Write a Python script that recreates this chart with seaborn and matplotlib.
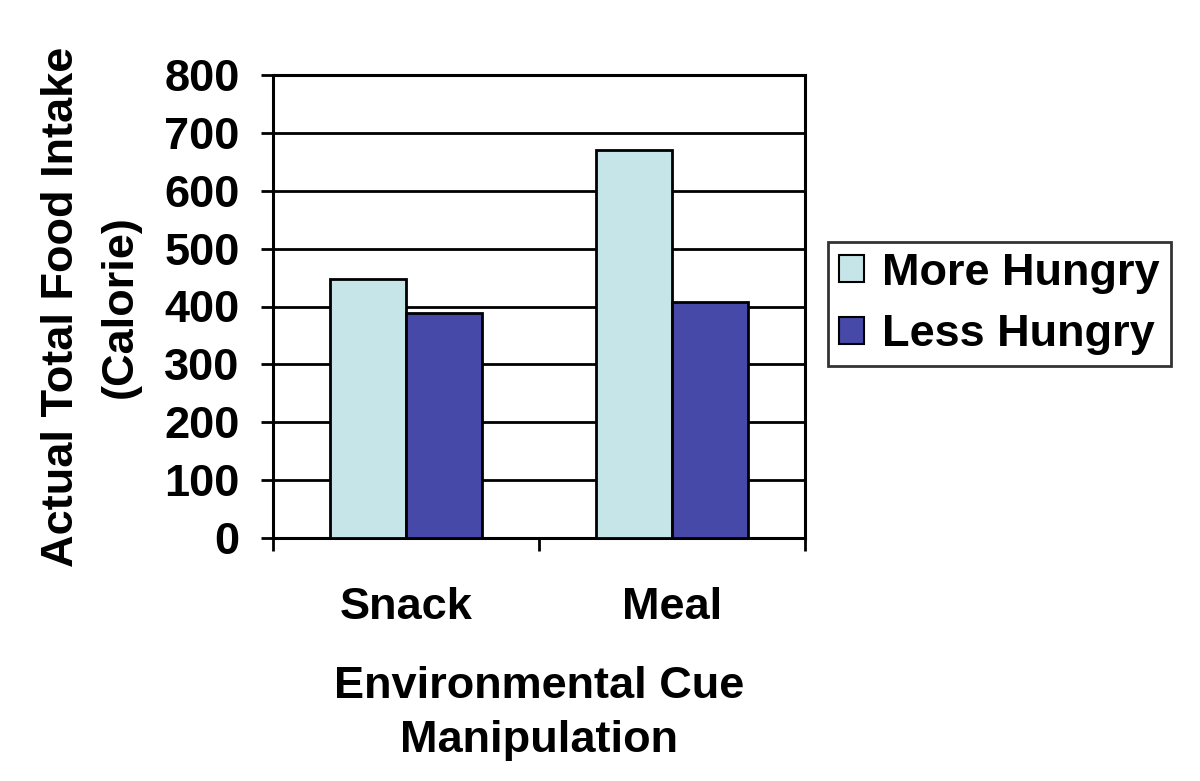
import matplotlib
matplotlib.use("Agg")
import matplotlib.pyplot as plt
import seaborn as sns
import pandas as pd
from matplotlib.ticker import FixedLocator, NullFormatter

categories = ["Snack", "Meal"]
groups = ["More Hungry", "Less Hungry"]
more_hungry = [447, 670]
less_hungry = [389, 407]
y_ticks = [0, 100, 200, 300, 400, 500, 600, 700, 800]

df = pd.DataFrame({
    "cue": categories * 2,
    "group": [groups[0]] * 2 + [groups[1]] * 2,
    "value": more_hungry + less_hungry,
})

sns.set_theme(style="white")
plt.rcParams['font.family'] = ['Liberation Sans', 'DejaVu Sans']
plt.rcParams['font.weight'] = 'bold'
for k in ["text.color", "axes.labelcolor", "xtick.color", "ytick.color"]:
    plt.rcParams[k] = "black"

FS = 32.5

fig = plt.figure(figsize=(12, 7.81), dpi=100)
ax = fig.add_axes([273/1200, 1 - 538/781, (805-273)/1200, (538-75)/781])

palette = {"More Hungry": "#C6E5E8", "Less Hungry": "#4649A8"}
sns.barplot(data=df, x="cue", y="value", hue="group", order=categories,
            hue_order=groups, palette=palette, width=0.575, ax=ax,
            edgecolor="black", linewidth=2, saturation=1, zorder=3, legend=True)

ax.set_ylim(0, 800)
ax.set_xlim(-0.5, 1.5)
ax.set_yticks(y_ticks)
ax.yaxis.grid(True, color="black", linewidth=2, zorder=0)
ax.set_axisbelow(True)
for s in ax.spines.values():
    s.set_color("black")
    s.set_linewidth(2.2)
    s.set_visible(True)

ax.tick_params(axis="y", which="major", length=9, width=2, color="black",
               direction="out", left=True, pad=15, labelsize=FS, labelcolor="black")
ax.tick_params(axis="x", which="major", length=0, pad=35, labelsize=FS, labelcolor="black")
ax.xaxis.set_minor_locator(FixedLocator([-0.5, 0.5, 1.5]))
ax.xaxis.set_minor_formatter(NullFormatter())
ax.tick_params(axis="x", which="minor", length=9, width=2, color="black",
               direction="out", bottom=True)
for lbl in ax.get_xticklabels() + ax.get_yticklabels():
    lbl.set_fontweight("bold")

ax.set_xlabel("Environmental Cue\nManipulation", fontsize=FS, fontweight="bold",
              labelpad=28, linespacing=1.4, color="black")
ax.set_ylabel("Actual Total Food Intake\n(Calorie)", fontsize=FS, fontweight="bold",
              labelpad=17, linespacing=1.55, color="black")

leg = ax.legend(loc="center left", bbox_to_anchor=(828/1200, 1 - 304/781),
                bbox_transform=fig.transFigure, frameon=True, fancybox=False,
                edgecolor="black", prop={"size": FS, "weight": "bold"},
                handlelength=0.55, handleheight=0.55, handletextpad=0.4,
                borderpad=0.25, labelspacing=0.45, borderaxespad=0)
leg.get_frame().set_linewidth(2)
for t in leg.get_texts():
    t.set_color("black")
for h in leg.legend_handles:
    h.set_edgecolor("black")
    h.set_linewidth(1.5)

fig.savefig("out.png", dpi=100)
